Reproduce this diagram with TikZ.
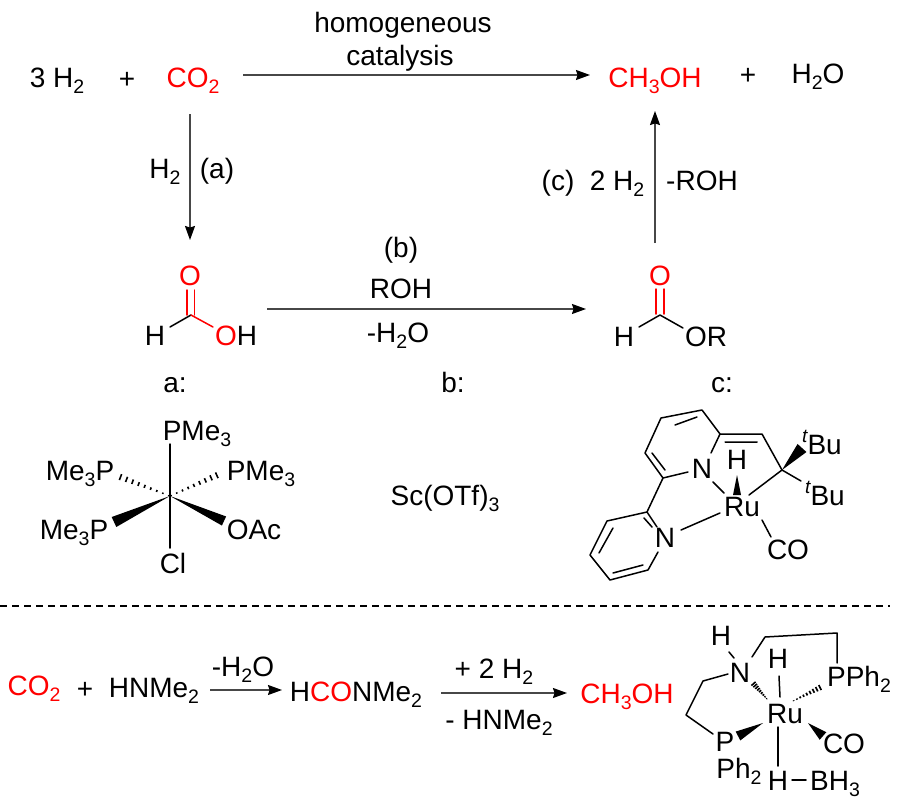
\documentclass[tikz,border=0pt]{standalone}
\usepackage{fontspec}
\setmainfont{Liberation Sans}
\usetikzlibrary{calc,arrows.meta}
\definecolor{hl}{RGB}{255,0,0}
\newcommand\sbs[1]{\raisebox{-6pt}{\fontsize{19.5}{20}\selectfont #1}}
\newcommand\sps[1]{\raisebox{12pt}{\fontsize{19}{19}\selectfont\itshape #1}}
\newcommand\hashb[3]{\foreach \t/\w in {0.02/0.5,0.13/0.8,0.24/1.1,0.35/1.4,0.46/1.7,0.57/2.1,0.68/2.5,0.79/2.9,0.90/3.3,1.0/3.7}{\draw[line width=1.6pt] ($#1!\t!#2!\w*#3 pt!90:#2$) -- ($#1!\t!#2!\w*#3 pt!-90:#2$);}}
\newcommand\wedgeb[3]{\fill #1 -- ($#2!#3 pt!90:#1$) -- ($#2!#3 pt!-90:#1$) -- cycle;}
\tikzset{
 tx/.style={inner sep=0pt,outer sep=0pt,anchor=base,font=\fontsize{28}{32}\selectfont},
 rd/.style={tx,text=hl},
 rx/.style={draw=black!72,line width=1.2pt,-{Stealth[length=14pt,width=10pt,inset=1.5pt,color=black]}},
 bondl/.style={line width=1.5pt,line cap=round,line join=round},
 rbond/.style={bondl,draw=hl},
}
\begin{document}
\begin{tikzpicture}[x=1pt,y=-1pt]
\useasboundingbox (0,0) rectangle (900,806);
\fill[white] (0,0) rectangle (900,806);
% top row
\node[tx] (h3) at (57,87) {3 H\sbs{2}};
\node[tx] (p1) at (127,88) {+};
\node[rd] (co2) at (193,87) {CO\sbs{2}};
\node[tx] (hom) at (403,32) {homogeneous};
\node[tx] (cat) at (400,65) {catalysis};
\node[rd] (me) at (655,87) {CH\sbs{3}OH};
\node[tx] (p2) at (748,84) {+};
\node[tx] (wat) at (818,83) {H\sbs{2}O};
\draw[rx] ([xshift=50pt,yshift=12pt]co2.base) -- ([xshift=-65pt,yshift=12pt]me.base);
% formic acid
\node[rd] (o1) at (190,285) {O};
\node[tx] (h1) at (155,345) {H};
\node[tx] (oh) at (236,345) {\textcolor{hl}{O}H};
\draw[bondl] ([xshift=15pt,yshift=18pt]h1.base) -- ([xshift=1pt,yshift=-30pt]o1.base);
\draw[rbond] ([xshift=1pt,yshift=-30pt]o1.base) -- ([xshift=-23pt,yshift=18pt]oh.base);
\draw[rbond] (187,290) -- (187,315) (194.5,290) -- (194.5,315);
\draw[rx] ([xshift=-3pt,yshift=-27pt]co2.base) -- ([yshift=45pt]o1.base);
\node[tx] (h2a) at (165,178) {H\sbs{2}};
\node[tx] (a) at (217,178) {(a)};
% step b
\node[tx] (b1) at (401,257) {(b)};
\node[tx] (b2) at (401,298) {ROH};
\node[tx] (b3) at (398,342) {-H\sbs{2}O};
% formate
\node[rd] (o2) at (660,285) {O};
\node[tx] (h3b) at (624,346) {H};
\node[tx] (or) at (706,346) {OR};
\draw[bondl] ([xshift=15pt,yshift=19pt]h3b.base) -- ([yshift=-30pt]o2.base) -- ([xshift=-23pt,yshift=18pt]or.base);
\draw[rbond] (656,289) -- (656,314) (664,289) -- (664,314);
\draw[rx] ([xshift=31pt,yshift=36pt]oh.base) -- ([xshift=-38pt,yshift=37pt]h3b.base);
\draw[rx] ([xshift=-5pt,yshift=42pt]o2.base) -- ([yshift=-24pt]me.base);
\node[tx] (c3) at (593,190) {(c)\hspace{0.556em}2 H\sbs{2}};
\node[tx] (c4) at (702,190) {-ROH};
% labels
\node[tx] (la) at (175,392) {a:};
\node[tx] (lb) at (453,392) {b:};
\node[tx] (lc) at (722,392) {c:};
\node[tx] (sc) at (445,505) {Sc(OTf)\sbs{3}};
% catalyst a
\coordinate (m) at (170,496);
\node[tx] (pa1) at (197,440) {PMe\sbs{3}};
\node[tx] (pa2) at (80,480) {Me\sbs{3}P};
\node[tx] (pa3) at (261,480) {PMe\sbs{3}};
\node[tx] (pa4) at (74,539) {Me\sbs{3}P};
\node[tx] (pa5) at (254,539) {OAc};
\node[tx] (pa6) at (173,573) {Cl};
\draw[bondl] (m) -- (170,444);
\draw[bondl] (m) -- (170,548);
\hashb{(m)}{(115,475)}{0.95}
\hashb{(m)}{(222,473)}{0.95}
\wedgeb{(m)}{(114,522)}{5.5}
\wedgeb{(m)}{(224,521)}{5}
% catalyst c
\draw[bondl] (711,453) -- (720,434) -- (702,410) (702,410) -- (661,418) -- (645,453) -- (663,478) -- (688,472);
\draw[bondl] (720,434) -- (762,434) -- (782,470);
\draw[bondl] (675,425) -- (697,417) (652,453) -- (665,470) (725,442) -- (757,442);
\draw[bondl] (663,478) -- (647,512) -- (607,521) -- (590,555) -- (610,580) -- (648,570) -- (658,552);
\draw[bondl] (647,512) -- (657,527) (644,518) -- (652,527) (613,528) -- (599,553) (613,573) -- (643,565);
\node[tx] (nc1) at (702,478) {N};
\node[tx] (nc2) at (665,547) {N};
\node[tx] (ruc) at (742,516) {Ru};
\node[tx] (hc) at (737,469) {H};
\draw[bondl] (681,530) -- (720,513);
\draw[bondl] (713,482) -- (724,493);
\wedgeb{(737,475)}{(737,495)}{4}
\draw[bondl] (782,470) -- (749,495);
\wedgeb{(782,470)}{(802,448)}{6}
\draw[bondl] (782,470) -- (801,481);
\node[tx] (tb1) at (822,454) {\sps{t}Bu};
\node[tx] (tb2) at (825,505) {\sps{t}Bu};
\node[tx] (coc) at (788,559) {CO};
\draw[bondl] (762,520) -- (771,537);
% dashed
\draw[line width=1.2pt,dash pattern=on 7pt off 5pt] (0,606) -- (890,606);
% bottom row
\node[rd] (co3) at (34,695) {CO\sbs{2}};
\node[tx] (p3) at (85,698) {+};
\node[tx] (amine) at (154,697) {HNMe\sbs{2}};
\node[tx] (w2) at (243,676) {-H\sbs{2}O};
\node[tx] (dmf) at (356,701) {H\textcolor{hl}{CO}NMe\sbs{2}};
\node[tx] (pl) at (494,678) {+ 2 H\sbs{2}};
\node[tx] (mn) at (499,729) {- HNMe\sbs{2}};
\node[rd] (me2) at (627,703) {CH\sbs{3}OH};
\draw[rx] ([xshift=56pt,yshift=7pt]amine.base) -- ([xshift=-74pt,yshift=11pt]dmf.base);
\draw[rx] ([xshift=85pt,yshift=8pt]dmf.base) -- ([xshift=-60pt,yshift=10pt]me2.base);
% bottom catalyst
\node[tx] (hn) at (721,645) {H};
\node[tx] (nr) at (740,682) {N};
\node[tx] (hr) at (778,668) {H};
\node[tx] (rur) at (785,723) {Ru};
\node[tx] (pr) at (859,686) {PPh\sbs{2}};
\node[tx] (pl2) at (725,751) {P};
\node[tx] (ph) at (739,778) {Ph\sbs{2}};
\node[tx] (cor) at (844,753) {CO};
\node[tx] (hb) at (778,790) {H};
\node[tx] (bh) at (835,790) {BH\sbs{3}};
\draw[bondl] (729,652) -- (734,658);
\draw[bondl] (752,657) -- (765,637) -- (837,633) -- (837,663);
\draw[bondl] (728,674) -- (703,681) -- (686,715) -- (713,734);
\draw[bondl] (779,676) -- (780,697);
\hashb{(767,699)}{(752,682)}{0.85}
\hashb{(793,701)}{(823,686)}{0.85}
\wedgeb{(763,723)}{(738,736)}{5}
\wedgeb{(808,723)}{(823,736)}{5}
\draw[bondl] (778,727) -- (778,766);
\draw[bondl] (792,780) -- (806,780);
\end{tikzpicture}
\end{document}
